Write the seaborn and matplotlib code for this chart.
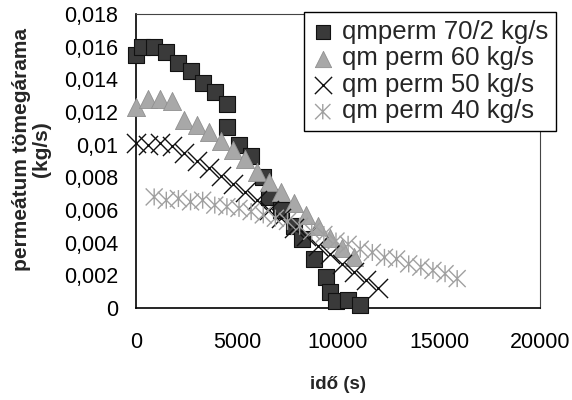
import numpy as np
import matplotlib
matplotlib.use("Agg")
import matplotlib.pyplot as plt
import seaborn as sns
from matplotlib.path import Path

# idő (s) / permeátum tömegárama (kg/s)
time_70 = [0, 300, 900, 1500, 2100, 2700, 3300, 3900, 4500, 4500, 5100, 5700,
           6300, 6600, 7200, 7800, 8200, 8800, 9400, 9600, 9900, 10500, 11100]
qm_70 = [0.0155, 0.0160, 0.0160, 0.0157, 0.0150, 0.0145, 0.0138, 0.0132, 0.0125,
         0.0111, 0.0100, 0.0093, 0.0080, 0.0068, 0.0060, 0.0050, 0.0042, 0.0030,
         0.0019, 0.0010, 0.0004, 0.0005, 0.0002]

time_60 = [0, 600, 1200, 1800, 2400, 3000, 3600, 4200, 4800, 5400, 6000, 6600,
           7200, 7800, 8400, 9000, 9600, 10200, 10800]
qm_60 = [0.0123, 0.0128, 0.0128, 0.0127, 0.0115, 0.0112, 0.0108, 0.0102, 0.0097,
         0.0091, 0.0083, 0.0077, 0.0071, 0.0064, 0.0057, 0.0050, 0.0043, 0.0037,
         0.0031]

time_50 = [0, 600, 1200, 1800, 2400, 3000, 3600, 4200, 4800, 5400, 6000, 6600,
           7200, 7800, 8400, 9000, 9600, 10200, 10800, 11400, 12000]
qm_50 = [0.0101, 0.0100, 0.0101, 0.0099, 0.0095, 0.0090, 0.0086, 0.0081, 0.0076,
         0.0071, 0.0066, 0.0060, 0.0055, 0.0049, 0.0044, 0.0038, 0.0033, 0.0027,
         0.0022, 0.0017, 0.0012]

time_40 = [900, 1500, 2100, 2700, 3300, 3900, 4500, 5100, 5700, 6300, 6900, 7500,
           8100, 8700, 9300, 9900, 10500, 11100, 11700, 12300, 12900, 13500,
           14100, 14700, 15300, 15900]
qm_40 = [0.0068, 0.0066, 0.0067, 0.0065, 0.0066, 0.0063, 0.0062, 0.0061, 0.0059,
         0.0057, 0.0055, 0.0053, 0.0050, 0.0047, 0.0045, 0.0041, 0.0039, 0.0036,
         0.0034, 0.0031, 0.0030, 0.0027, 0.0025, 0.0023, 0.0021, 0.0018]

labels = ["qmperm 70/2 kg/s", "qm perm 60 kg/s", "qm perm 50 kg/s", "qm perm 40 kg/s"]

x_ticks = [0, 5000, 10000, 15000, 20000]
y_ticks = [0, 0.002, 0.004, 0.006, 0.008, 0.01, 0.012, 0.014, 0.016, 0.018]
y_ticklabels = ["0", "0,002", "0,004", "0,006", "0,008", "0,01", "0,012",
                "0,014", "0,016", "0,018"]

sns.set_style("white")
plt.rcParams["font.family"] = ["Liberation Sans", "DejaVu Sans"]

# excel-like "star" marker: an x with a vertical bar through it
star = Path([(-1, -1), (1, 1), (-1, 1), (1, -1), (0, -1), (0, 1)],
            [Path.MOVETO, Path.LINETO, Path.MOVETO, Path.LINETO, Path.MOVETO, Path.LINETO])

fig = plt.figure(figsize=(5.72, 4.0), dpi=100)
ax = fig.add_axes([136 / 572, 1 - 308 / 400, 404 / 572, 294 / 400])

sns.scatterplot(x=time_70, y=qm_70, ax=ax, marker="s", s=135, color="#3a3a3a",
                edgecolor="#111111", linewidth=0.8, label=labels[0], clip_on=False, zorder=3)
sns.scatterplot(x=time_60, y=qm_60, ax=ax, marker="^", s=170, color="#a8a8a8",
                edgecolor="#909090", linewidth=0.6, label=labels[1], clip_on=False, zorder=4)
sns.scatterplot(x=time_50, y=qm_50, ax=ax, marker="x", s=190, color="#111111",
                linewidth=1.0, label=labels[2], clip_on=False, zorder=5)
sns.scatterplot(x=time_40, y=qm_40, ax=ax, marker=star, s=150, facecolor="none",
                edgecolor="#a0a0a0", linewidth=1.0, label=labels[3], clip_on=False, zorder=6)

ax.set_xlim(0, 20000)
ax.set_ylim(0, 0.018)
ax.set_xticks(x_ticks)
ax.set_xticklabels([str(t) for t in x_ticks])
ax.set_yticks(y_ticks)
ax.set_yticklabels(y_ticklabels)
ax.tick_params(axis="both", direction="out", length=5, width=1, color="black",
               labelsize=15.5, labelcolor="black")
ax.tick_params(axis="y", pad=8)
ax.tick_params(axis="x", pad=12)

for side in ["left", "bottom"]:
    ax.spines[side].set_color("black")
    ax.spines[side].set_linewidth(1.2)
for side in ["top", "right"]:
    ax.spines[side].set_color("#444444")
    ax.spines[side].set_linewidth(0.8)

ax.set_ylabel("permeátum tömegárama\n(kg/s)", fontsize=15, fontweight="bold",
              linespacing=1.05)
ax.yaxis.set_label_coords(-0.258, 0.54)
ax.yaxis.label.set_va("center")
ax.set_xlabel("idő (s)", fontsize=13.5, fontweight="bold")
ax.xaxis.set_label_coords(0.5, -0.26)
ax.xaxis.label.set_va("center")

leg = ax.legend(loc="upper right", bbox_to_anchor=(556 / 572, 1 - 12 / 400),
                bbox_transform=fig.transFigure, fontsize=18.5, frameon=True,
                fancybox=False, framealpha=1, edgecolor="black", borderpad=0.3,
                labelspacing=0.1, handlelength=0.9, handletextpad=0.3,
                borderaxespad=0, markerscale=0.9)
leg.get_frame().set_linewidth(1.0)
leg.set_zorder(10)

fig.savefig("out.png", dpi=100)
